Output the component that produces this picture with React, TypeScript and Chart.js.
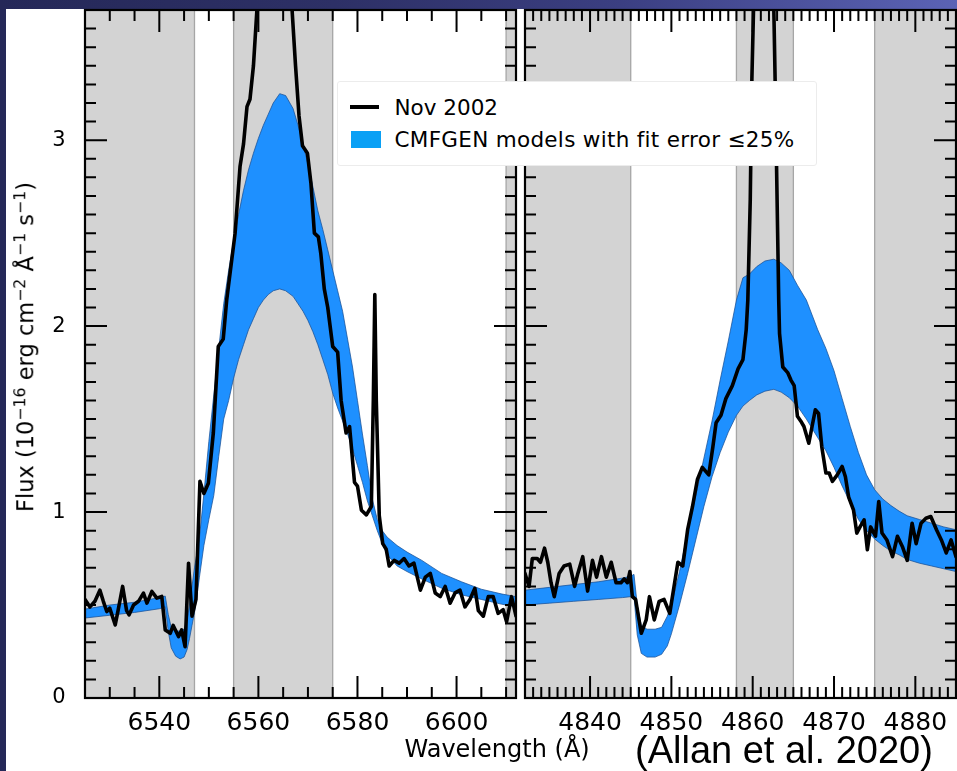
import React, { useEffect, useRef } from 'react';
import { Chart, registerables } from 'chart.js';

Chart.register(...registerables);

const FONT = '"DejaVu Sans", Verdana, sans-serif';

// ---------------- H-alpha panel (left) ----------------
const haObsWave = [
  6525.0, 6526.0, 6527.0, 6528.0, 6528.7, 6529.4, 6530.0, 6531.1, 6531.7, 6532.6,
  6533.4, 6533.9, 6534.8, 6535.8, 6536.8, 6537.5, 6538.5, 6539.5, 6540.5, 6541.2,
  6542.2, 6542.8, 6543.9, 6544.5, 6545.2, 6545.9, 6546.6, 6547.4, 6548.2, 6549.0,
  6549.9, 6550.9, 6551.9, 6552.9, 6553.6, 6555.3, 6556.3, 6557.0, 6557.7, 6558.3,
  6559.0, 6559.7, 6560.2, 6563.3, 6566.3, 6566.8, 6567.5, 6568.2, 6568.9, 6569.9,
  6570.6, 6571.3, 6572.1, 6572.6, 6573.3, 6574.0, 6575.0, 6576.0, 6576.7, 6577.7,
  6578.4, 6579.4, 6580.0, 6580.8, 6581.8, 6582.8, 6583.2, 6583.5, 6583.8, 6584.4,
  6585.1, 6585.8, 6586.4, 6587.4, 6588.4, 6589.4, 6590.4, 6591.4, 6592.7, 6593.7,
  6594.7, 6595.7, 6596.7, 6597.7, 6598.7, 6599.7, 6600.7, 6601.7, 6602.7, 6603.7,
  6604.4, 6605.4, 6606.4, 6607.4, 6608.4, 6609.4, 6610.1, 6611.1, 6612.0,
];
const haObsFlux = [
  0.53, 0.49, 0.52, 0.58, 0.52, 0.465, 0.483, 0.393, 0.474, 0.60,
  0.47, 0.447, 0.50, 0.52, 0.564, 0.51, 0.573, 0.537, 0.546, 0.366,
  0.348, 0.39, 0.33, 0.366, 0.276, 0.725, 0.44, 0.53, 1.165, 1.10,
  1.155, 1.425, 1.89, 1.93, 2.14, 2.50, 2.86, 2.98, 3.18, 3.22,
  3.40, 3.70, 4.6, 5.5, 4.6, 3.70, 3.40, 3.13, 2.97, 2.93,
  2.77, 2.50, 2.48, 2.39, 2.20, 2.10, 1.89, 1.86, 1.60, 1.425,
  1.46, 1.16, 1.14, 1.01, 0.985, 1.03, 1.6, 2.17, 1.6, 0.98,
  0.83, 0.80, 0.71, 0.74, 0.725, 0.75, 0.71, 0.725, 0.58, 0.65,
  0.67, 0.565, 0.545, 0.60, 0.51, 0.565, 0.58, 0.49, 0.53, 0.59,
  0.47, 0.44, 0.545, 0.545, 0.455, 0.475, 0.41, 0.545, 0.44,
];
const haBandWave = [
  6525, 6530, 6535, 6540, 6541.2, 6541.8, 6542.4, 6543.3, 6544.2, 6545.0,
  6545.6, 6546.1, 6546.6, 6547.1, 6547.6, 6548.1, 6549, 6550, 6551, 6552,
  6553, 6554, 6555, 6556, 6557, 6558, 6559, 6560, 6561, 6562,
  6563, 6564.3, 6565.5, 6567, 6568, 6569, 6570, 6571, 6572, 6573,
  6574, 6575, 6576, 6577, 6578, 6579, 6580, 6581, 6582, 6583,
  6584, 6585, 6586, 6588, 6590, 6593, 6597, 6601, 6605, 6609,
  6612,
];
const haBandUpper = [
  0.478, 0.50, 0.515, 0.54, 0.548, 0.45, 0.38, 0.36, 0.36, 0.37,
  0.42, 0.50, 0.60, 0.70, 0.78, 0.86, 1.10, 1.38, 1.63, 1.88,
  2.12, 2.30, 2.46, 2.60, 2.73, 2.84, 2.93, 3.01, 3.08, 3.14,
  3.20, 3.25, 3.24, 3.17, 3.08, 2.98, 2.87, 2.75, 2.62, 2.52,
  2.41, 2.30, 2.19, 2.08, 1.93, 1.78, 1.60, 1.42, 1.25, 1.07,
  0.96, 0.90, 0.865, 0.82, 0.785, 0.74, 0.67, 0.625, 0.585, 0.56,
  0.545,
];
const haBandLower = [
  0.43, 0.445, 0.46, 0.48, 0.49, 0.36, 0.27, 0.225, 0.21, 0.22,
  0.26, 0.32, 0.39, 0.46, 0.55, 0.65, 0.82, 0.96, 1.09, 1.30,
  1.50, 1.60, 1.72, 1.82, 1.90, 1.98, 2.04, 2.10, 2.14, 2.17,
  2.19, 2.20, 2.19, 2.16, 2.12, 2.08, 2.03, 1.97, 1.90, 1.82,
  1.74, 1.64, 1.56, 1.49, 1.42, 1.34, 1.25, 1.16, 1.06, 0.98,
  0.90, 0.83, 0.77, 0.71, 0.68, 0.64, 0.59, 0.555, 0.53, 0.505,
  0.49,
];
const haShaded = [[6525, 6547.1], [6555, 6575], [6610, 6612]];
const haRange = [6525, 6612];
const haTicks = [6540, 6560, 6580, 6600];
const haMinorStep = 5;

// ---------------- H-beta panel (right) ----------------
const hbObsWave = [
  4832.0, 4832.5, 4832.9, 4833.5, 4833.9, 4834.4, 4834.8, 4835.2, 4835.6, 4836.2,
  4836.8, 4837.5, 4838.1, 4838.5, 4839.1, 4839.7, 4840.3, 4840.8, 4841.4, 4842.0,
  4842.6, 4843.2, 4843.8, 4844.2, 4844.6, 4844.9, 4845.2, 4845.6, 4846.3, 4846.9,
  4847.3, 4847.9, 4848.5, 4849.1, 4849.8, 4850.4, 4850.8, 4851.4, 4852.0, 4852.6,
  4853.2, 4853.8, 4854.6, 4855.1, 4855.5, 4856.1, 4856.7, 4857.5, 4858.2, 4858.8,
  4859.2, 4859.4, 4859.7, 4859.9, 4860.1, 4860.4, 4862.3, 4862.6, 4862.8, 4863.0,
  4863.2, 4863.3, 4863.7, 4864.3, 4864.7, 4865.1, 4865.5, 4865.9, 4866.3, 4866.9,
  4867.3, 4867.7, 4868.1, 4868.5, 4869.0, 4869.4, 4869.8, 4870.4, 4871.0, 4871.4,
  4871.8, 4872.4, 4872.8, 4873.2, 4873.7, 4874.1, 4874.5, 4875.1, 4875.5, 4875.9,
  4876.5, 4877.2, 4877.8, 4878.4, 4879.0, 4879.6, 4880.1, 4880.7, 4881.3, 4881.9,
  4882.6, 4883.2, 4883.8, 4884.4, 4885.0,
];
const hbObsFlux = [
  0.67, 0.60, 0.75, 0.75, 0.73, 0.806, 0.73, 0.62, 0.545, 0.67,
  0.71, 0.72, 0.60, 0.67, 0.76, 0.575, 0.74, 0.65, 0.76, 0.65,
  0.73, 0.62, 0.62, 0.64, 0.62, 0.68, 0.545, 0.53, 0.348, 0.42,
  0.545, 0.42, 0.52, 0.53, 0.455, 0.62, 0.73, 0.71, 0.905, 1.03,
  1.175, 1.24, 1.20, 1.35, 1.48, 1.52, 1.61, 1.68, 1.77, 1.82,
  1.98, 2.14, 2.68, 3.33, 3.70, 4.6, 4.6, 3.70, 3.22, 2.68,
  2.14, 1.96, 1.78, 1.75, 1.71, 1.68, 1.515, 1.49, 1.46, 1.37,
  1.46, 1.55, 1.53, 1.35, 1.21, 1.21, 1.165, 1.20, 1.245, 1.19,
  1.08, 1.01, 0.887, 0.92, 0.958, 0.797, 0.92, 0.87, 1.057, 0.887,
  0.85, 0.76, 0.87, 0.815, 0.74, 0.94, 0.83, 0.94, 0.967, 0.976,
  0.905, 0.85, 0.78, 0.85, 0.76,
];
const hbBandWave = [
  4832, 4835, 4838, 4841, 4844, 4845, 4845.4, 4845.8, 4846.3, 4847,
  4848, 4848.8, 4849.5, 4850, 4851, 4852, 4853, 4854, 4855, 4856,
  4857, 4858, 4858.8, 4859.6, 4860.5, 4861.5, 4862.6, 4863.5, 4864.5, 4865.5,
  4866.6, 4868, 4869, 4870, 4871, 4872, 4873, 4874, 4875, 4876,
  4877, 4878, 4879, 4880.5, 4882, 4883.5, 4885,
];
const hbBandUpper = [
  0.58, 0.595, 0.61, 0.625, 0.645, 0.655, 0.665, 0.50, 0.39, 0.37,
  0.37, 0.38, 0.44, 0.50, 0.68, 0.89, 1.09, 1.29, 1.49, 1.71,
  1.92, 2.14, 2.26, 2.28, 2.32, 2.35, 2.36, 2.34, 2.30, 2.22,
  2.14, 1.98, 1.88, 1.76, 1.61, 1.46, 1.32, 1.20, 1.12, 1.07,
  1.035, 1.005, 0.98, 0.96, 0.94, 0.92, 0.905,
];
const hbBandLower = [
  0.50, 0.51, 0.52, 0.53, 0.54, 0.545, 0.55, 0.34, 0.24, 0.22,
  0.22, 0.235, 0.28, 0.345, 0.50, 0.67, 0.85, 1.03, 1.19, 1.32,
  1.43, 1.52, 1.57, 1.60, 1.63, 1.65, 1.66, 1.645, 1.615, 1.57,
  1.50, 1.40, 1.33, 1.24, 1.14, 1.05, 0.96, 0.90, 0.855, 0.82,
  0.79, 0.77, 0.745, 0.725, 0.71, 0.695, 0.68,
];
const hbShaded = [[4832, 4845], [4858, 4865], [4875, 4885]];
const hbRange = [4832, 4885];
const hbTicks = [4840, 4850, 4860, 4870, 4880];
const hbMinorStep = 1;

// ---------------- shared ----------------
const fluxRange = [0, 3.7];
const fluxTicks = [0, 1, 2, 3];
const fluxMinorStep = 0.1;

const legendLabels = ['Nov 2002', 'CMFGEN models with fit error \u226425%'];

const shadePlugin = {
  id: 'shade',
  beforeDatasetsDraw(chart: any, _a: any, opts: any) {
    const { ctx, chartArea: a } = chart;
    const xs = chart.scales.x;
    ctx.save();
    ctx.beginPath();
    ctx.rect(a.left, a.top, a.right - a.left, a.bottom - a.top);
    ctx.clip();
    for (const [s, e] of opts.spans) {
      const x0 = xs.getPixelForValue(s);
      const x1 = xs.getPixelForValue(e);
      ctx.fillStyle = '#d3d3d3';
      ctx.fillRect(x0, a.top, x1 - x0, a.bottom - a.top);
      ctx.strokeStyle = '#a6a6a6';
      ctx.lineWidth = 1.3;
      ctx.beginPath();
      ctx.moveTo(x0, a.top);
      ctx.lineTo(x0, a.bottom);
      ctx.moveTo(x1, a.top);
      ctx.lineTo(x1, a.bottom);
      ctx.stroke();
    }
    ctx.restore();
  },
};

const frameTicksPlugin = {
  id: 'frameTicks',
  afterDatasetsDraw(chart: any, _a: any, opts: any) {
    const { ctx, chartArea: a } = chart;
    const xs = chart.scales.x;
    const ys = chart.scales.y;
    const MAJ = 22;
    const MIN = 11;
    ctx.save();
    ctx.strokeStyle = '#000';
    ctx.lineWidth = 2;
    ctx.beginPath();
    const st = opts.xMinor;
    const n0 = Math.ceil(xs.min / st - 1e-6);
    const n1 = Math.floor(xs.max / st + 1e-6);
    for (let n = n0; n <= n1; n++) {
      const v = Math.round(n * st * 1000) / 1000;
      const major = opts.xMajor.some((m: number) => Math.abs(m - v) < 1e-6);
      const len = major ? MAJ : MIN;
      const px = xs.getPixelForValue(v);
      if (px <= a.left + 1 || px >= a.right - 1) continue;
      ctx.moveTo(px, a.bottom);
      ctx.lineTo(px, a.bottom - len);
      ctx.moveTo(px, a.top);
      ctx.lineTo(px, a.top + len);
    }
    const ys0 = opts.yMinor;
    const m1 = Math.floor(ys.max / ys0 + 1e-6);
    for (let k = 0; k <= m1; k++) {
      const v = Math.round(k * ys0 * 1000) / 1000;
      const major = opts.yMajor.some((m: number) => Math.abs(m - v) < 1e-6);
      const len = major ? MAJ : MIN;
      const py = ys.getPixelForValue(v);
      if (py <= a.top + 1 || py >= a.bottom - 1) continue;
      ctx.moveTo(a.left, py);
      ctx.lineTo(a.left + len, py);
      ctx.moveTo(a.right, py);
      ctx.lineTo(a.right - len, py);
    }
    ctx.stroke();
    ctx.lineWidth = 2.2;
    ctx.strokeRect(a.left, a.top, a.right - a.left, a.bottom - a.top);
    ctx.restore();
  },
};

type PanelCfg = {
  obsWave: number[];
  obsFlux: number[];
  bandWave: number[];
  bandUpper: number[];
  bandLower: number[];
  shaded: number[][];
  range: number[];
  ticks: number[];
  minor: number;
  padLeft: number;
  padRight: number;
  yWidth: number;
  showY: boolean;
};

const haCfg: PanelCfg = {
  obsWave: haObsWave, obsFlux: haObsFlux,
  bandWave: haBandWave, bandUpper: haBandUpper, bandLower: haBandLower,
  shaded: haShaded, range: haRange, ticks: haTicks, minor: haMinorStep,
  padLeft: 0, padRight: 441, yWidth: 85, showY: true,
};
const hbCfg: PanelCfg = {
  obsWave: hbObsWave, obsFlux: hbObsFlux,
  bandWave: hbBandWave, bandUpper: hbBandUpper, bandLower: hbBandLower,
  shaded: hbShaded, range: hbRange, ticks: hbTicks, minor: hbMinorStep,
  padLeft: 525, padRight: 1, yWidth: 0, showY: false,
};

function makeConfig(p: PanelCfg): any {
  const edge = 'rgba(25,80,150,0.75)';
  return {
    type: 'line',
    data: {
      datasets: [
        {
          label: legendLabels[0],
          data: p.obsWave.map((w, i) => ({ x: w, y: p.obsFlux[i] })),
          borderColor: '#000',
          borderWidth: 3.6,
          borderJoinStyle: 'round',
          borderCapStyle: 'round',
          pointRadius: 0,
          tension: 0,
          fill: false,
          clip: 0,
        },
        {
          label: 'lower',
          data: p.bandWave.map((w, i) => ({ x: w, y: p.bandLower[i] })),
          borderColor: edge,
          borderWidth: 1,
          pointRadius: 0,
          tension: 0,
          fill: false,
          clip: 0,
        },
        {
          label: legendLabels[1],
          data: p.bandWave.map((w, i) => ({ x: w, y: p.bandUpper[i] })),
          borderColor: edge,
          borderWidth: 1,
          backgroundColor: '#1e90ff',
          pointRadius: 0,
          tension: 0,
          fill: '-1',
          clip: 0,
        },
      ],
    },
    options: {
      animation: false,
      responsive: false,
      events: [],
      layout: { padding: { left: p.padLeft, right: p.padRight, top: 10, bottom: 0 } },
      scales: {
        x: {
          type: 'linear',
          min: p.range[0],
          max: p.range[1],
          grid: { display: false },
          border: { display: false },
          afterBuildTicks: (s: any) => {
            s.ticks = p.ticks.map((v) => ({ value: v }));
          },
          afterFit: (s: any) => {
            s.height = 73;
            s.paddingLeft = 0;
            s.paddingRight = 0;
            s.paddingTop = 0;
            s.paddingBottom = 0;
          },
          ticks: {
            color: '#000',
            font: { family: FONT, size: 25 },
            padding: 2,
            maxRotation: 0,
            autoSkip: false,
            callback: (v: any) => String(v),
          },
        },
        y: {
          type: 'linear',
          min: fluxRange[0],
          max: fluxRange[1],
          grid: { display: false },
          border: { display: false },
          afterBuildTicks: (s: any) => {
            s.ticks = fluxTicks.map((v) => ({ value: v }));
          },
          afterFit: (s: any) => {
            s.width = p.yWidth;
            s.paddingLeft = 0;
            s.paddingRight = 0;
            s.paddingTop = 0;
            s.paddingBottom = 0;
          },
          ticks: {
            display: p.showY,
            color: '#000',
            font: { family: FONT, size: 21 },
            padding: 11.5,
            callback: (v: any) => String(v),
          },
        },
      },
      plugins: {
        legend: { display: false },
        tooltip: { enabled: false },
        shade: { spans: p.shaded },
        frameTicks: { xMajor: p.ticks, xMinor: p.minor, yMajor: fluxTicks, yMinor: fluxMinorStep },
      },
    },
    plugins: [shadePlugin, frameTicksPlugin],
  };
}

function Panel({ cfg }: { cfg: PanelCfg }) {
  const ref = useRef<HTMLCanvasElement>(null);
  useEffect(() => {
    const chart = new Chart(ref.current as HTMLCanvasElement, makeConfig(cfg));
    return () => chart.destroy();
  }, [cfg]);
  return (
    <canvas
      ref={ref}
      width={957}
      height={771}
      style={{ position: 'absolute', left: 0, top: 0, width: 957, height: 771 }}
    />
  );
}

const supStyle: React.CSSProperties = {
  fontSize: '0.7em',
  position: 'relative',
  top: '-0.5em',
};

const textBase: React.CSSProperties = {
  position: 'absolute',
  whiteSpace: 'nowrap',
  color: '#000',
  fontFamily: FONT,
};

export default function App() {
  return (
    <div
      style={{
        position: 'absolute',
        left: 0,
        top: 0,
        width: 957,
        height: 771,
        overflow: 'hidden',
        background: 'linear-gradient(90deg, #252858 0%, #2d3066 35%, #3b3f82 65%, #5b63b5 100%)',
      }}
    >
      <div style={{ position: 'absolute', left: 6, top: 9, right: 0, bottom: 0, background: '#fff' }} />
      <Panel cfg={haCfg} />
      <Panel cfg={hbCfg} />

      {/* legend */}
      <div
        style={{
          position: 'absolute',
          left: 337,
          top: 81,
          width: 480,
          height: 85,
          background: '#fff',
          border: '1px solid #ececec',
          borderRadius: 3,
          boxSizing: 'border-box',
        }}
      />
      <div style={{ position: 'absolute', left: 350, top: 105, width: 29, height: 4, background: '#000' }} />
      <div style={{ position: 'absolute', left: 351, top: 131, width: 30, height: 17, background: '#0aa0f5' }} />
      <div style={{ ...textBase, left: 394.5, top: 96.8, fontSize: 21.5, lineHeight: '21.5px' }}>
        {legendLabels[0]}
      </div>
      <div style={{ ...textBase, left: 394.5, top: 128.5, fontSize: 21.5, lineHeight: '21.5px', letterSpacing: 0.3 }}>
        {legendLabels[1]}
      </div>

      {/* y axis title */}
      <div
        style={{
          ...textBase,
          left: 26.5,
          top: 347,
          transform: 'translate(-50%, -50%) rotate(-90deg)',
          fontSize: 22.5,
          lineHeight: '22.5px',
        }}
      >
        Flux (10<span style={supStyle}>{'\u221216'}</span> erg cm<span style={supStyle}>{'\u22122'}</span> {'\u00c5'}
        <span style={supStyle}>{'\u22121'}</span> s<span style={supStyle}>{'\u22121'}</span>)
      </div>

      {/* x axis title */}
      <div style={{ ...textBase, left: 404.5, top: 737, fontSize: 24, lineHeight: '24px' }}>
        Wavelength ({'\u00c5'})
      </div>

      {/* citation */}
      <div
        style={{
          ...textBase,
          left: 635,
          top: 731,
          fontFamily: '"Liberation Sans", Arial, sans-serif',
          fontSize: 38,
          lineHeight: '38px',
        }}
      >
        (Allan et al. 2020)
      </div>
    </div>
  );
}
